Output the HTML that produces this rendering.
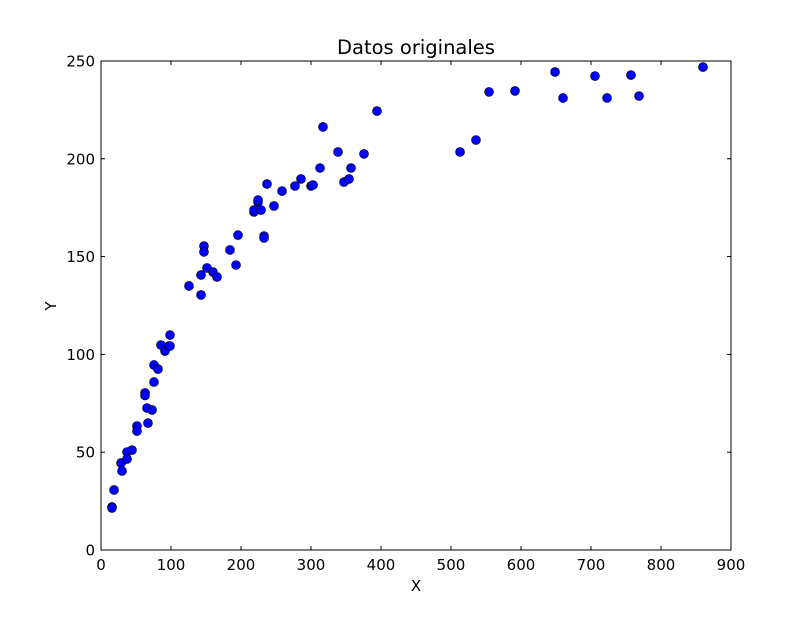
<!DOCTYPE html>
<html><head><meta charset="utf-8"><style>
body{margin:0;background:#fff;}
svg text{font-family:"DejaVu Sans","Liberation Sans",sans-serif;}
</style></head><body>
<svg id="chart" width="812" height="612" xmlns="http://www.w3.org/2000/svg">
<rect x="0" y="0" width="812" height="612" fill="#fff"/>
<text x="416" y="54" font-size="19.5" text-anchor="middle">Datos originales</text>
<text x="416" y="591" font-size="15" text-anchor="middle">X</text>
<text x="56" y="306" font-size="15" text-anchor="middle" transform="rotate(-90 56 306)">Y</text>
<g id="ticks"></g>
<g id="points"></g>
<rect x="101" y="61" width="630" height="489" fill="none" stroke="#000" stroke-width="1"/>
</svg>
<script>
const xs=[15.7,15.7,18.6,28.6,30,37.1,37.1,44.3,51.4,51.4,62.9,65.7,62.9,67.1,72.9,75.7,75.7,85.7,81.4,91.4,97.1,98.6,98.6,125.7,142.9,147.1,147.1,142.9,151.4,160,165.7,184.3,192.9,195.7,218.6,218.6,224.3,224.3,228.6,232.9,232.9,237.1,247.1,258.6,277.1,285.7,300,302.9,312.9,317.1,338.6,347.1,354.3,357.1,375.7,394.3,512.9,535.7,554.3,591.4,648.6,660,705.7,722.9,757.1,768.6,860];
const ys=[22,21.5,30.7,44.5,40.4,50.1,46.5,51.1,63.4,60.8,80.3,72.6,79,64.9,71.6,85.9,94.6,104.8,92.5,101.7,104.3,109.9,104.3,135,130.4,155.4,152.4,140.6,144.2,142.1,139.6,153.4,145.7,161,172.8,173.8,177.9,178.9,173.8,160.5,159.5,187.1,175.9,183.5,186.1,189.7,186.1,186.6,195.3,216.3,203.5,188.1,189.7,195.3,202.5,224.4,203.5,209.6,234.2,234.7,244.4,231.1,242.3,231.1,242.8,232.1,246.9];
const xTicks=[0,100,200,300,400,500,600,700,800,900];
const yTicks=[0,50,100,150,200,250];
const NS="http://www.w3.org/2000/svg";
const L=101,R=731,T=61,B=550;
const sx=v=>L+(v/900)*(R-L);
const sy=v=>B-(v/250)*(B-T);
const tg=document.getElementById('ticks');
xTicks.forEach(t=>{
  const x=sx(t);
  [[B,B-4],[T,T+4]].forEach(([a,b])=>{
    const l=document.createElementNS(NS,'line');
    l.setAttribute('x1',x);l.setAttribute('x2',x);l.setAttribute('y1',a);l.setAttribute('y2',b);
    l.setAttribute('stroke','#000');
    
    
    tg.appendChild(l);
  });
  const tx=document.createElementNS(NS,'text');
  tx.setAttribute('x',x);tx.setAttribute('y',570);tx.setAttribute('font-size','15');tx.setAttribute('text-anchor','middle');
  tx.textContent=t;
  
  
  tg.appendChild(tx);
});
yTicks.forEach(t=>{
  const y=sy(t);
  [[L,L+4],[R,R-4]].forEach(([a,b])=>{
    const l=document.createElementNS(NS,'line');
    l.setAttribute('x1',a);l.setAttribute('x2',b);l.setAttribute('y1',y);l.setAttribute('y2',y);
    l.setAttribute('stroke','#000');
    
    
    tg.appendChild(l);
  });
  const tx=document.createElementNS(NS,'text');
  tx.setAttribute('x',95);tx.setAttribute('y',y+5.5);tx.setAttribute('font-size','15');tx.setAttribute('text-anchor','end');
  tx.textContent=t;
  
  
  tg.appendChild(tx);
});
const pg=document.getElementById('points');
xs.forEach((v,i)=>{
  const c=document.createElementNS(NS,'circle');
  c.setAttribute('cx',sx(v));c.setAttribute('cy',sy(ys[i]));c.setAttribute('r',4.5);
  c.setAttribute('fill','#0000ff');c.setAttribute('stroke','#000');c.setAttribute('stroke-width','0.6');
  
  
  pg.appendChild(c);
});
</script>
</body></html>
